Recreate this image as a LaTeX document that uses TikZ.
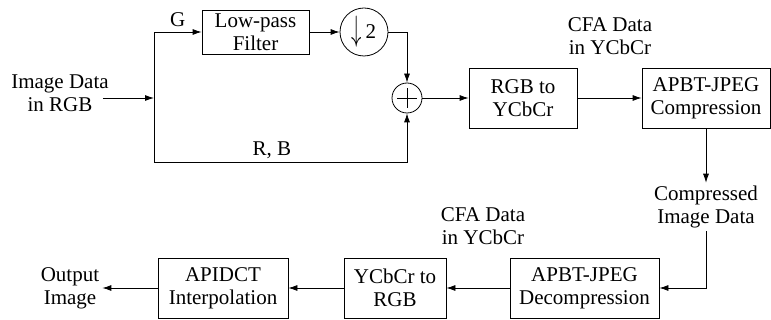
\documentclass[tikz,border=0pt]{standalone}
\usepackage{fontspec}
\setmainfont{Liberation Serif}
\newfontfamily\blkfont{Liberation Serif}
\usetikzlibrary{arrows.meta}

\tikzset{
  blk/.style={draw, line width=0.8pt, minimum height=60pt, align=center, inner sep=0pt},
  lbl/.style={align=center, inner sep=3pt},
  sig/.style={line width=0.8pt, -{Latex[length=9pt,width=6pt]}},
}

\begin{document}
\begin{tikzpicture}[x=1pt, y=-1pt, font={\blkfont\fontsize{21}{23}\selectfont}]
  \useasboundingbox (0,0) rectangle (771,320);
  % Encoder side
  \node[lbl] (in) at (60,93) {Image Data\\in RGB};
  \coordinate (split) at (154,98);
  \node[blk, minimum width=107pt, minimum height=44pt] (lpf) at (255.5,32) {Low-pass\\Filter};
  \node[draw, circle, line width=0.8pt, minimum size=48pt, inner sep=0pt] (down) at (364,32)
    {\raisebox{-2pt}{\scalebox{1}[1.7]{$\downarrow$}}\,2};
  \node[draw, circle, line width=0.8pt, minimum size=30pt, inner sep=0pt] (sum) at (407,98) {};
  \draw[line width=0.8pt] ([xshift=-10pt]sum.center) -- ([xshift=10pt]sum.center)
    ([yshift=-10pt]sum.center) -- ([yshift=10pt]sum.center);
  \coordinate (rbturn) at (sum |- 0,162);
  \node[blk, minimum width=108pt] (rgb) at (523,98) {RGB to\\YCbCr};
  \node[blk, minimum width=128pt] (comp) at (706,98) {APBT-JPEG\\Compression};
  \node[lbl] (cfa1) at (610,36) {CFA Data\\in YCbCr};
  \node[lbl] (cid) at (706,207) {Compressed\\Image Data};

  \draw[sig] ([xshift=-9pt]in.east |- split) -- (split);
  \draw[sig] (split) |- node[pos=0.75, above, inner sep=5pt] {G} (lpf.west);
  \draw[sig] (lpf) -- (down);
  \draw[sig] (down.east) -| (sum.north);
  \draw[sig] (split) |- node[pos=0.733, above] {R, B} (rbturn) -- (sum.south);
  \draw[sig] (sum) -- (rgb);
  \draw[sig] (rgb) -- (comp);
  \draw[sig] (comp) -- (cid);

  % Decoder side
  \node[blk, minimum width=149pt] (decomp) at (584.5,288) {APBT-JPEG\\Decompression};
  \node[blk, minimum width=102pt] (yrgb) at (395,288) {YCbCr to\\RGB};
  \node[blk, minimum width=130pt] (apidct) at (223,288) {APIDCT\\Interpolation};
  \node[lbl] (cfa2) at (483,226) {CFA Data\\in YCbCr};
  \node[lbl] (out) at (70,288) {Output\\Image};

  \draw[sig] (cid) |- (decomp);
  \draw[sig] (decomp) -- (yrgb);
  \draw[sig] (yrgb) -- (apidct);
  \draw[sig] (apidct) -- (out);
\end{tikzpicture}
\end{document}
